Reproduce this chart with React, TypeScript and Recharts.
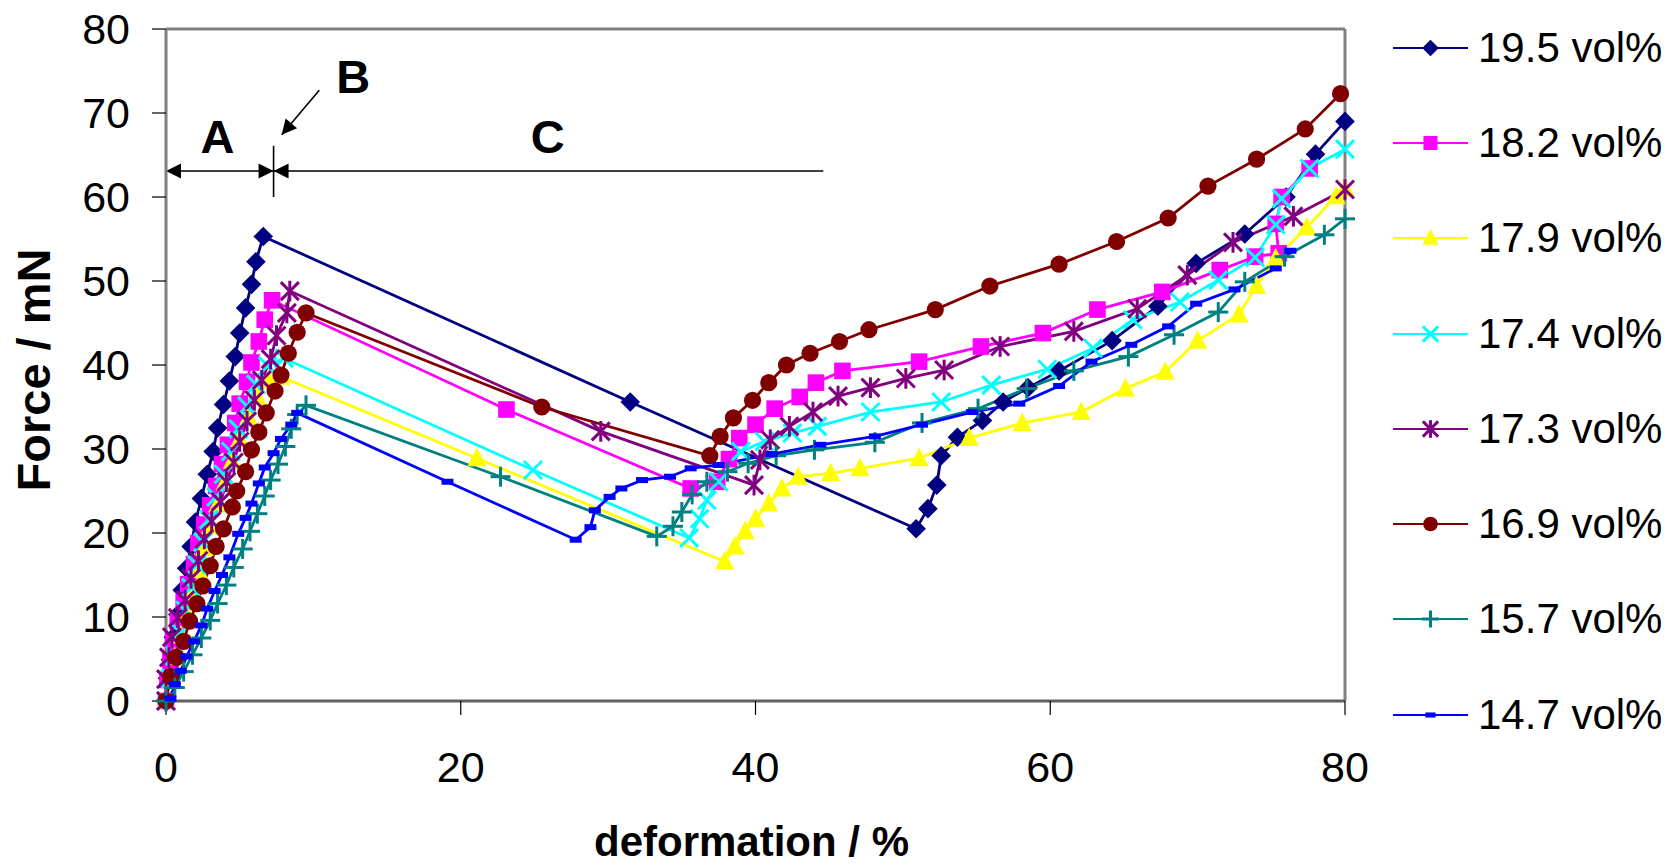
import React from 'react';
import { LineChart, Line, XAxis, YAxis, ReferenceLine, ReferenceDot, Legend } from 'recharts';

type Pt = [number, number];

// [deformation %, force mN]
const vol195: Pt[] = [
  [0, 0], [0.1, 2.7], [0.3, 4.9], [0.5, 7.6], [0.8, 10.3], [1.1, 13.2], [1.4, 15.8], [1.7, 18.4],
  [2.0, 21.3], [2.4, 24.1], [2.8, 27.0], [3.2, 29.7], [3.5, 32.5], [3.9, 35.3], [4.3, 38.1],
  [4.7, 41.0], [5.0, 43.8], [5.4, 46.8], [5.8, 49.6], [6.1, 52.3], [6.6, 55.3],
  [31.5, 35.6], [50.9, 20.5], [51.7, 22.9], [52.3, 25.7], [52.6, 29.2], [53.7, 31.4],
  [55.4, 33.4], [56.8, 35.6], [58.5, 37.3], [60.6, 39.3], [64.2, 42.9], [67.3, 47.0],
  [69.9, 52.1], [73.2, 55.6], [76.0, 60.0], [78.0, 65.1], [80.0, 69.0],
];

const vol182: Pt[] = [
  [0, 0], [0.1, 2.5], [0.3, 4.8], [0.5, 7.1], [0.8, 9.5], [1.2, 11.8], [1.5, 13.9], [1.9, 16.3],
  [2.2, 18.8], [2.6, 21.0], [3.0, 23.3], [3.4, 25.6], [3.8, 28.2], [4.2, 30.5], [4.7, 33.1],
  [5.0, 35.4], [5.5, 38.0], [5.8, 40.3], [6.3, 42.8], [6.7, 45.4], [7.2, 47.7],
  [23.1, 34.7], [35.6, 25.3], [37.4, 26.1], [38.2, 28.8], [38.9, 31.3], [40.0, 32.9],
  [41.3, 34.8], [43.0, 36.2], [44.1, 37.9], [45.9, 39.3], [51.1, 40.4], [55.3, 42.2],
  [59.5, 43.8], [63.2, 46.6], [67.6, 48.7], [71.5, 51.3], [73.9, 52.9], [75.5, 53.3],
  [75.3, 56.8], [75.7, 60.0], [77.6, 63.4],
];

const vol179: Pt[] = [
  [0, 0], [0.3, 2.6], [0.6, 5.2], [1.0, 7.8], [1.4, 10.4], [1.8, 13.0], [2.2, 15.6], [2.6, 18.2],
  [3.0, 20.8], [3.5, 23.4], [4.0, 26.0], [4.5, 28.6], [5.0, 31.2], [5.6, 33.8], [6.2, 36.2],
  [7.0, 38.2], [7.8, 38.6],
  [21.1, 28.9], [37.9, 16.6], [38.6, 18.4], [39.3, 20.2], [40.0, 21.7], [40.9, 23.5],
  [41.8, 25.3], [42.9, 26.7], [45.1, 27.1], [47.1, 27.7], [51.1, 28.9], [54.5, 31.3],
  [58.1, 33.1], [62.1, 34.4], [65.1, 37.2], [67.8, 39.2], [70.0, 42.9], [72.8, 46.0],
  [74.0, 49.4], [75.3, 52.7], [77.4, 56.4], [79.4, 60.1], [80.0, 61.0],
];

const vol174: Pt[] = [
  [0, 0], [0.3, 2.7], [0.6, 5.4], [1.0, 8.1], [1.3, 10.8], [1.7, 13.5], [2.1, 16.2], [2.5, 18.9],
  [2.9, 21.6], [3.4, 24.3], [3.9, 27.0], [4.4, 29.7], [4.9, 32.4], [5.5, 35.1], [6.1, 37.7],
  [6.9, 39.9], [8.0, 40.8],
  [24.9, 27.5], [35.5, 19.4], [36.2, 21.7], [36.7, 23.9], [37.5, 26.1], [39.0, 29.7],
  [40.6, 30.9], [42.5, 31.9], [44.2, 32.7], [47.8, 34.4], [52.6, 35.6], [56.0, 37.6],
  [59.8, 39.5], [62.9, 42.0], [65.6, 45.4], [68.8, 47.5], [71.4, 50.1], [73.9, 52.8],
  [75.3, 56.7], [75.7, 59.8], [77.6, 63.4], [80.0, 65.7],
];

const vol173: Pt[] = [
  [0, 0], [0, 2.6], [0.2, 5.2], [0.4, 7.6], [0.8, 9.9], [1.3, 12.0], [1.7, 14.6], [2.2, 16.7],
  [2.6, 19.3], [3.1, 21.4], [3.7, 23.7], [4.1, 26.1], [4.6, 28.4], [5.0, 30.9], [5.5, 33.3],
  [6.0, 35.8], [6.5, 38.2], [7.1, 40.7], [7.5, 43.5], [8.2, 46.2], [8.4, 48.8],
  [29.5, 32.1], [39.9, 25.7], [40.3, 28.7], [41.0, 31.1], [42.3, 32.7], [43.9, 34.4],
  [45.6, 36.3], [47.8, 37.3], [50.2, 38.4], [52.8, 39.4], [56.6, 42.2], [61.6, 44.0],
  [65.9, 46.7], [69.3, 50.7], [72.4, 54.6], [76.5, 57.7], [80.0, 60.9],
];

const vol169: Pt[] = [
  [0, 0], [0.3, 2.9], [0.7, 5.2], [1.2, 7.1], [1.6, 9.5], [2.1, 11.6], [2.5, 13.7], [3.0, 16.1],
  [3.4, 18.4], [3.9, 20.5], [4.5, 23.1], [4.8, 25.0], [5.4, 27.3], [5.8, 29.9], [6.3, 32.0],
  [6.8, 34.3], [7.4, 36.9], [7.8, 38.8], [8.3, 41.4], [8.9, 43.9], [9.5, 46.2],
  [25.5, 35.0], [36.9, 29.2], [37.6, 31.5], [38.5, 33.7], [39.8, 35.8], [40.9, 37.9],
  [42.1, 40.0], [43.7, 41.4], [45.7, 42.8], [47.7, 44.2], [52.2, 46.6], [55.9, 49.4],
  [60.6, 52.0], [64.5, 54.7], [68.0, 57.5], [70.7, 61.3], [74.0, 64.5], [77.3, 68.1],
  [79.7, 72.3],
];

const vol157: Pt[] = [
  [0, 0], [0.6, 1.6], [1.2, 3.5], [1.8, 5.5], [2.4, 7.5], [3.0, 9.6], [3.5, 11.6], [4.1, 13.8],
  [4.6, 15.9], [5.2, 18.1], [5.7, 20.2], [6.2, 22.3], [6.7, 24.4], [7.1, 26.3], [7.6, 28.2],
  [8.1, 30.3], [8.5, 32.4], [8.9, 34.1], [9.5, 35.2],
  [22.7, 26.7], [33.3, 19.6], [34.4, 20.8], [35.0, 22.5], [35.7, 24.6], [36.7, 26.1],
  [38.1, 27.3], [39.5, 28.3], [41.4, 29.2], [44.0, 29.9], [48.1, 30.8], [51.3, 33.1],
  [55.1, 34.8], [58.4, 37.2], [61.6, 39.3], [65.3, 41.0], [68.4, 43.6], [71.4, 46.3],
  [73.2, 49.9], [75.9, 52.9], [78.6, 55.5], [80.0, 57.4],
];

const vol147: Pt[] = [
  [0.3, 0.3], [0.6, 2.0], [1.0, 3.6], [1.4, 5.3], [1.9, 7.1], [2.4, 9.0], [2.8, 11.0], [3.3, 13.1],
  [3.8, 15.0], [4.3, 17.1], [4.9, 19.9], [5.4, 21.8], [5.8, 23.5], [6.3, 25.9], [6.7, 27.8],
  [7.3, 29.5], [7.8, 31.2], [8.5, 32.9], [8.9, 34.3],
  [19.1, 26.1], [27.8, 19.2], [28.8, 20.7], [29.1, 22.7], [30.1, 24.3], [30.9, 25.3],
  [32.3, 26.3], [34.2, 26.7], [35.6, 27.7], [37.5, 28.1], [41.1, 29.4], [44.4, 30.5],
  [48.1, 31.5], [51.3, 32.9], [54.7, 34.4], [57.9, 35.4], [60.6, 37.5], [62.8, 40.4],
  [65.5, 42.4], [68.0, 44.6], [69.9, 47.3], [72.5, 49.0], [75.3, 51.5], [76.3, 53.6],
];

const X_TICKS = [0, 20, 40, 60, 80];
const Y_TICKS = [0, 10, 20, 30, 40, 50, 60, 70, 80];

const FONT = '"Liberation Sans", Arial, Helvetica, sans-serif';

type MarkerKind = 'diamond' | 'square' | 'triangle' | 'cross' | 'star' | 'circle' | 'plus' | 'dash';

const SERIES: { name: string; points: Pt[]; color: string; marker: MarkerKind }[] = [
  { name: '19.5 vol%', points: vol195, color: '#000080', marker: 'diamond' },
  { name: '18.2 vol%', points: vol182, color: '#FF00FF', marker: 'square' },
  { name: '17.9 vol%', points: vol179, color: '#FFFF00', marker: 'triangle' },
  { name: '17.4 vol%', points: vol174, color: '#00FFFF', marker: 'cross' },
  { name: '17.3 vol%', points: vol173, color: '#800080', marker: 'star' },
  { name: '16.9 vol%', points: vol169, color: '#800000', marker: 'circle' },
  { name: '15.7 vol%', points: vol157, color: '#008080', marker: 'plus' },
  { name: '14.7 vol%', points: vol147, color: '#0000FF', marker: 'dash' },
];

function Marker({ kind, cx, cy, color, s = 1 }: { kind: MarkerKind; cx: number; cy: number; color: string; s?: number }) {
  const sw = 3;
  switch (kind) {
    case 'diamond': {
      const h = 9.8 * s;
      return <polygon points={`${cx},${cy - h} ${cx + h},${cy} ${cx},${cy + h} ${cx - h},${cy}`} fill={color} />;
    }
    case 'square': {
      const h = 8.3 * s;
      return <rect x={cx - h} y={cy - h} width={2 * h} height={2 * h} fill={color} />;
    }
    case 'triangle': {
      const w = 9.5 * s;
      return <polygon points={`${cx},${cy - 10.5 * s} ${cx + w},${cy + 8 * s} ${cx - w},${cy + 8 * s}`} fill={color} />;
    }
    case 'circle':
      return <circle cx={cx} cy={cy} r={8.6 * s} fill={color} />;
    case 'cross': {
      const h = 9 * s;
      return (
        <g stroke={color} strokeWidth={sw}>
          <line x1={cx - h} y1={cy - h} x2={cx + h} y2={cy + h} />
          <line x1={cx - h} y1={cy + h} x2={cx + h} y2={cy - h} />
        </g>
      );
    }
    case 'star': {
      const h = 9 * s;
      return (
        <g stroke={color} strokeWidth={sw}>
          <line x1={cx - h} y1={cy - h} x2={cx + h} y2={cy + h} />
          <line x1={cx - h} y1={cy + h} x2={cx + h} y2={cy - h} />
          <line x1={cx} y1={cy - h * 1.15} x2={cx} y2={cy + h * 1.15} />
        </g>
      );
    }
    case 'plus': {
      const h = 10 * s;
      return (
        <g stroke={color} strokeWidth={sw}>
          <line x1={cx - h} y1={cy} x2={cx + h} y2={cy} />
          <line x1={cx} y1={cy - h} x2={cx} y2={cy + h} />
        </g>
      );
    }
    case 'dash':
    default:
      return <rect x={cx - 6 * s} y={cy - 3 * s} width={12 * s} height={6 * s} fill={color} />;
  }
}

function arrow(startHead: boolean, endHead: boolean) {
  return (p: any) => {
    const { x1, y1, x2, y2 } = p;
    const ang = Math.atan2(y2 - y1, x2 - x1);
    const head = (tx: number, ty: number, a: number) => {
      const L = 15;
      const W = 7.5;
      const bx = tx - L * Math.cos(a);
      const by = ty - L * Math.sin(a);
      const px = -Math.sin(a) * W;
      const py = Math.cos(a) * W;
      return `${tx},${ty} ${bx + px},${by + py} ${bx - px},${by - py}`;
    };
    return (
      <g>
        <line x1={x1} y1={y1} x2={x2} y2={y2} stroke="#000" strokeWidth={1.6} />
        {endHead && <polygon points={head(x2, y2, ang)} fill="#000" />}
        {startHead && <polygon points={head(x1, y1, ang + Math.PI)} fill="#000" />}
      </g>
    );
  };
}

const letter = (txt: string) => (p: any) => (
  <text x={p.cx} y={p.cy} dy="0.36em" textAnchor="middle" fontFamily={FONT} fontWeight="bold" fontSize={47} fill="#000">
    {txt}
  </text>
);

function LegendBox() {
  return (
    <div style={{ fontFamily: FONT, fontSize: 42, color: '#000' }}>
      {SERIES.map((s) => (
        <div key={s.name} style={{ height: 95.3, display: 'flex', alignItems: 'center' }}>
          <svg width={88} height={30} style={{ flex: 'none' }}>
            <line x1={13} y1={15} x2={88} y2={15} stroke={s.color} strokeWidth={2.2} />
            <Marker kind={s.marker} cx={50.5} cy={15} color={s.color} s={0.85} />
          </svg>
          <span style={{ marginLeft: 10, whiteSpace: 'nowrap', lineHeight: 1 }}>{s.name}</span>
        </div>
      ))}
    </div>
  );
}

export default function App() {
  return (
    <div style={{ position: 'absolute', left: 0, top: 0, width: 1667, height: 866, background: '#fff' }}>
      <LineChart width={1667} height={866} margin={{ top: 29, right: 322, bottom: 0, left: 0 }}>
        <XAxis
          dataKey="x"
          type="number"
          domain={[0, 80]}
          ticks={X_TICKS}
          interval={0}
          height={165}
          tickSize={14}
          tickMargin={36}
          axisLine={{ stroke: '#606060', strokeWidth: 3 }}
          tickLine={{ stroke: '#000', strokeWidth: 1.2 }}
          tick={{ fill: '#000', fontSize: 43, fontFamily: FONT }}
          label={{
            content: (p: any) => {
              const vb = p.viewBox || { x: 166, y: 701, width: 1179 };
              return (
                <text x={vb.x + vb.width / 2 - 4} y={vb.y + 155} textAnchor="middle" fontFamily={FONT} fontWeight="bold" fontSize={42} fill="#000">
                  deformation / %
                </text>
              );
            },
          }}
        />
        <YAxis
          dataKey="y"
          type="number"
          domain={[0, 80]}
          ticks={Y_TICKS}
          interval={0}
          width={166}
          tickSize={14}
          tickMargin={22}
          axisLine={{ stroke: '#808080', strokeWidth: 3 }}
          tickLine={{ stroke: '#000', strokeWidth: 1.2 }}
          tick={{ fill: '#000', fontSize: 43, fontFamily: FONT }}
          label={{
            content: (p: any) => {
              const vb = p.viewBox || { x: 0, y: 29, height: 672 };
              const cx = vb.x + 33;
              const cy = vb.y + vb.height / 2 + 5;
              return (
                <text x={cx} y={cy} dy="0.36em" transform={`rotate(-90, ${cx}, ${cy})`} textAnchor="middle" fontFamily={FONT} fontWeight="bold" fontSize={47} fill="#000">
                  Force / mN
                </text>
              );
            },
          }}
        />

        <ReferenceLine y={80} stroke="#808080" strokeWidth={3} />
        <ReferenceLine x={80} stroke="#808080" strokeWidth={3} />

        {SERIES.map((s) => (
          <Line
            key={s.name}
            name={s.name}
            data={s.points.map(([x, y]) => ({ x, y }))}
            dataKey="y"
            type="linear"
            stroke={s.color}
            strokeWidth={2.8}
            isAnimationActive={false}
            activeDot={false}
            dot={(p: any) =>
              p.cx == null || p.cy == null ? (
                <g key={`${s.name}-${p.index}`} />
              ) : (
                <g key={`${s.name}-${p.index}`}>
                  <Marker kind={s.marker} cx={p.cx} cy={p.cy} color={s.color} />
                </g>
              )
            }
          />
        ))}

        <ReferenceLine segment={[{ x: 0, y: 63.1 }, { x: 7.3, y: 63.1 }]} shape={arrow(true, true)} />
        <ReferenceLine segment={[{ x: 7.3, y: 63.1 }, { x: 44.6, y: 63.1 }]} shape={arrow(true, false)} />
        <ReferenceLine segment={[{ x: 7.3, y: 60.0 }, { x: 7.3, y: 66.1 }]} shape={arrow(false, false)} />
        <ReferenceLine segment={[{ x: 10.4, y: 72.7 }, { x: 7.85, y: 67.4 }]} shape={arrow(false, true)} />
        <ReferenceDot x={3.5} y={67.3} r={0} shape={letter('A')} />
        <ReferenceDot x={12.7} y={74.4} r={0} shape={letter('B')} />
        <ReferenceDot x={25.9} y={67.3} r={0} shape={letter('C')} />

        <Legend
          layout="vertical"
          align="center"
          verticalAlign="middle"
          wrapperStyle={{ left: 1380, top: 0, width: 287 }}
          content={() => <LegendBox />}
        />
      </LineChart>
    </div>
  );
}
